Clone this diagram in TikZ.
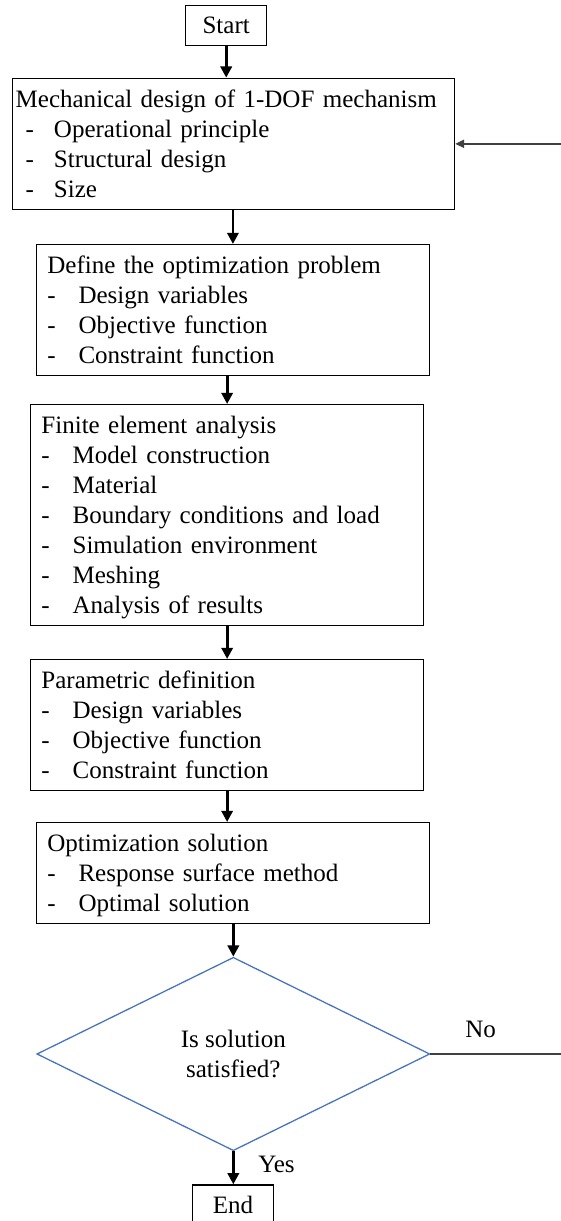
\documentclass[tikz,border=0pt]{standalone}
\usepackage{fontspec}
\setmainfont{Liberation Serif}
\usepackage{tikz}
\usetikzlibrary{arrows.meta, shapes.geometric}
\definecolor{diablue}{RGB}{68,114,196}
\definecolor{fbgray}{RGB}{64,64,64}
\newcommand{\itm}[1]{\makebox[0.78cm][l]{-}#1}
\newcommand{\mitm}[1]{\hspace*{0.25cm}\makebox[0.708cm][l]{-}#1}
\newcommand{\topst}{\rule{0pt}{0.725cm}}
\newcommand{\botst}{\rule[-0.3cm]{0pt}{0.3cm}}

\begin{document}
\begin{tikzpicture}[
  txt/.style={font=\fontsize{17.8}{21.34}\selectfont},
  stepbox/.style={txt, draw, line width=0.9pt, anchor=north west, align=left, inner ysep=0pt, inner xsep=0.27cm},
  termbox/.style={txt, draw, line width=0.9pt, minimum width=2.02cm, minimum height=1cm, inner sep=0pt},
  decision/.style={txt, diamond, draw=diablue, line width=0.9pt, aspect=2, minimum width=9.825cm, minimum height=4.835cm, inner sep=0pt, align=center},
  flow/.style={line width=2pt, -{Triangle[length=0.28cm,width=0.28cm]}},
  fbline/.style={fbgray, line width=1.3pt, -{Triangle[length=0.22cm,width=0.2cm]}},
  lab/.style={txt, anchor=base west, inner sep=0pt}
]
\useasboundingbox (0,0) rectangle (14.025,30.525);
\fill[white] (0,0) rectangle (14.025,30.525); %page background

\node[termbox] (start) at (5.655,29.8825) {Start};
\node[stepbox, inner xsep=0.083cm, text width=10.89cm] (mech) at (0.2925,28.5825)
  {\topst Mechanical design of 1-DOF mechanism\\ \mitm{Operational principle}\\ \mitm{Structural design}\\ \mitm{Size}\botst};
\node[stepbox, inner xsep=0.275cm, text width=9.28cm] (define) at (0.8925,24.425)
  {\topst Define the optimization problem\\ \itm{Design variables}\\ \itm{Objective function}\\ \itm{Constraint function}\botst};
\node[stepbox, text width=9.285cm] (fea) at (0.75,20.425)
  {\topst Finite element analysis\\ \itm{Model construction}\\ \itm{Material}\\ \itm{Boundary conditions and load}\\ \itm{Simulation environment}\\ \itm{Meshing}\\ \itm{Analysis of results}\botst};
\node[stepbox, text width=9.285cm] (param) at (0.75,14.05)
  {\topst Parametric definition\\ \itm{Design variables}\\ \itm{Objective function}\\ \itm{Constraint function}\botst};
\node[stepbox, inner xsep=0.275cm, text width=9.28cm] (optim) at (0.8925,9.975)
  {\topst Optimization solution\\ \itm{Response surface method}\\ \itm{Optimal solution}\botst};
\node[decision] (dia) at (5.833,4.175) {Is solution\\satisfied?};
\node[termbox] (end) at (5.825,0.4) {End};
\node[lab] (yes) at (6.45,1.2) {Yes};
\node[lab] (no) at (11.625,4.575) {No};
\coordinate (turn) at (14.25,4.175); % right of the page edge

\draw[flow] (start.south) -- (start.south |- mech.north);
\draw[flow] (mech.south -| define.north) -- (define.north);
\draw[flow] (define.south -| fea.north) -- (fea.north);
\draw[flow] (fea.south) -- (param.north);
\draw[flow] (param.south) -- (param.south |- optim.north);
\draw[flow] (optim.south -| dia.north) -- (dia.north);
\draw[flow] (dia.south) -- (dia.south |- end.north);
\draw[fbline] (dia.east) -- (turn) |- (mech.east);
\end{tikzpicture}
\end{document}
